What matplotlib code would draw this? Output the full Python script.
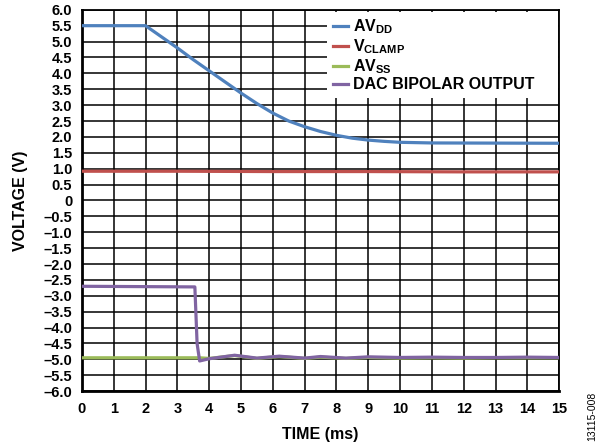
import matplotlib
matplotlib.use("Agg")
import matplotlib.pyplot as plt
import numpy as np

plt.rcParams['font.family'] = ['Liberation Sans', 'DejaVu Sans']
plt.rcParams['font.weight'] = 'bold'
plt.rcParams['mathtext.fontset'] = 'custom'
plt.rcParams['mathtext.rm'] = 'Liberation Sans:bold'
plt.rcParams['mathtext.it'] = 'Liberation Sans:bold'
plt.rcParams['mathtext.bf'] = 'Liberation Sans:bold'

# Data (time in ms, voltage in V)
t_avdd = [0, 2, 2.5, 3, 3.5, 4, 4.5, 5, 5.5, 6, 6.5, 7, 7.5, 8, 8.5, 9, 9.5, 10, 10.5, 11, 15]
v_avdd = [5.5, 5.5, 5.15, 4.8, 4.43, 4.08, 3.73, 3.38, 3.05, 2.75, 2.5, 2.32, 2.17, 2.05, 1.96, 1.9, 1.86, 1.83, 1.82, 1.81, 1.8]

t_clamp = [0, 3, 6, 9, 12, 15]
v_clamp = [0.92, 0.92, 0.91, 0.91, 0.9, 0.9]

t_avss = [0, 3.7, 4.0, 4.8, 5.5, 6.2, 7.0, 7.5, 8.3, 9, 10, 11, 12, 13, 14, 15]
v_avss = [-4.95, -4.95, -4.97, -4.88, -4.97, -4.91, -4.97, -4.93, -4.97, -4.94, -4.96, -4.95, -4.96, -4.95, -4.95, -4.95]

t_dac = [0, 3.55, 3.62, 3.7, 4.0, 4.8, 5.5, 6.2, 7, 7.5, 8.3, 9, 10, 11, 12, 13, 14, 15]
v_dac = [-2.7, -2.72, -4.5, -5.05, -4.98, -4.87, -4.96, -4.9, -4.96, -4.91, -4.96, -4.92, -4.94, -4.93, -4.94, -4.94, -4.93, -4.94]

x_ticks = list(range(0, 16))
y_ticks = [6.0, 5.5, 5.0, 4.5, 4.0, 3.5, 3.0, 2.5, 2.0, 1.5, 1.0, 0.5, 0, -0.5, -1.0, -1.5, -2.0, -2.5,
           -3.0, -3.5, -4.0, -4.5, -5.0, -5.5, -6.0]

labels = ["AV$_{DD}$", "V$_{CLAMP}$", "AV$_{SS}$", "DAC BIPOLAR OUTPUT"]
colors = ["#4f81bd", "#c0504d", "#9bbb59", "#8064a2"]

fig = plt.figure(figsize=(5.98, 4.45), dpi=100)
ax = fig.add_axes([0.137, 0.121, 0.798, 0.857])

ax.plot(t_avdd, v_avdd, color=colors[0], lw=2.3, label=labels[0], zorder=3)
ax.plot(t_clamp, v_clamp, color=colors[1], lw=2.3, label=labels[1], zorder=3)
ax.plot(t_avss, v_avss, color=colors[2], lw=2.3, label=labels[2], zorder=3)
ax.plot(t_dac, v_dac, color=colors[3], lw=2.3, label=labels[3], zorder=4)

ax.set_xlim(0, 15)
ax.set_ylim(-6, 6)
ax.set_xticks(x_ticks)
ax.set_yticks(y_ticks)
ax.set_xticklabels([str(x) for x in x_ticks])
def fmt(v):
    if v == 0:
        return "0"
    s = f"{abs(v):.1f}"
    return ("\u2013" + s) if v < 0 else s
ax.set_yticklabels([fmt(v) for v in y_ticks])
ax.tick_params(axis='both', length=0, labelsize=10.5)
ax.tick_params(axis='y', pad=7)
ax.tick_params(axis='x', pad=8)
for lbl in ax.get_xticklabels() + ax.get_yticklabels():
    lbl.set_fontweight('bold')

ax.grid(True, color='black', lw=1.1)
ax.set_axisbelow(True)
for s in ['left', 'bottom']:
    ax.spines[s].set_linewidth(2.0)
for s in ['top', 'right']:
    ax.spines[s].set_linewidth(1.3)

ax.set_xlabel("TIME (ms)", fontsize=11.5, fontweight='bold', labelpad=8)
ax.set_ylabel("VOLTAGE (V)", fontsize=11.5, fontweight='bold', labelpad=11)

leg = ax.legend(loc='upper left', bbox_to_anchor=(0.514, 0.798, 0.484, 0.197), mode='expand',
                borderaxespad=0.0, fontsize=11.5, handlelength=0.95, handletextpad=0.3,
                labelspacing=0.08, frameon=True, fancybox=False, framealpha=1.0, borderpad=0.35)
leg.get_frame().set_edgecolor('white')
leg.get_frame().set_linewidth(0)
for txt in leg.get_texts():
    txt.set_fontweight('bold')

fig.text(0.99, 0.065, "13115-008", rotation=90, fontsize=7.5, fontweight='normal',
         ha='center', va='center')

fig.savefig("out.png", dpi=100)
